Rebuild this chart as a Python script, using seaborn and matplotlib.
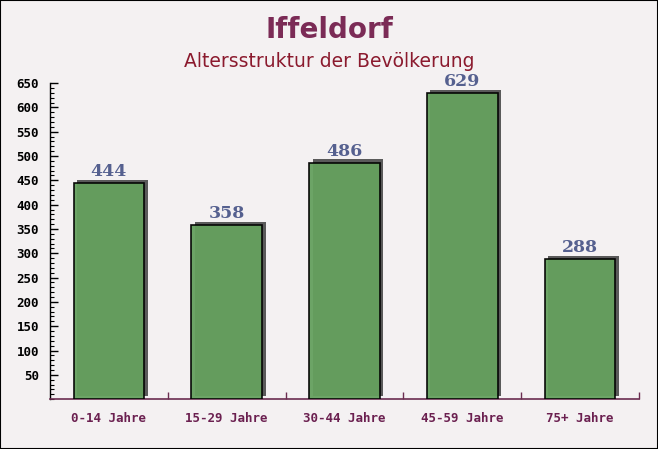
import pandas as pd
import matplotlib.pyplot as plt
import matplotlib.transforms as mtransforms
from matplotlib.patches import Rectangle
from matplotlib.ticker import MultipleLocator, FixedLocator
import seaborn as sns

# Chart data
categories = ["0-14 Jahre", "15-29 Jahre", "30-44 Jahre", "45-59 Jahre", "75+ Jahre"]
values = [444, 358, 486, 629, 288]
y_ticks = [50, 100, 150, 200, 250, 300, 350, 400, 450, 500, 550, 600, 650]

df = pd.DataFrame({"Gruppe": categories, "Einwohner": values})

sns.set_style("white")
plt.rcParams["font.family"] = ["DejaVu Sans"]

fig = plt.figure(figsize=(6.58, 4.49), dpi=100)
fig.patch.set_facecolor("#f4f1f2")
ax = fig.add_axes([0.076, 0.111, 0.895, 0.704])
ax.set_facecolor("none")

sns.barplot(data=df, x="Gruppe", y="Einwohner", color="#65a05e",
            width=0.6, edgecolor="black", linewidth=1.2,
            saturation=1, ax=ax, zorder=3)

# Drop shadows behind the bars, value labels above
shadow_tr = mtransforms.offset_copy(ax.transData, fig=fig, x=3.5, y=3.5, units="dots")
label_tr = mtransforms.offset_copy(ax.transData, fig=fig, x=0, y=3, units="dots")
for p in list(ax.patches):
    p.set_alpha(0.95)
    sh = Rectangle((p.get_x(), p.get_y()), p.get_width(), p.get_height(),
                   transform=shadow_tr, facecolor="#5a5a5a", edgecolor="none", zorder=2)
    ax.add_patch(sh)
    ax.text(p.get_x() + p.get_width() / 2, p.get_height(), f"{int(p.get_height())}",
            transform=label_tr, ha="center", va="bottom", fontsize=12.5,
            fontweight="bold", color="#55608f", family="DejaVu Serif", zorder=4)

ax.set_xlim(-0.5, len(categories) - 0.5)
ax.set_ylim(0, 650)
ax.set_xlabel("")
ax.set_ylabel("")

ax.yaxis.set_major_locator(FixedLocator(y_ticks))
ax.yaxis.set_minor_locator(MultipleLocator(10))
ax.set_yticklabels([str(t) for t in y_ticks])
ax.xaxis.set_minor_locator(FixedLocator([i + 0.5 for i in range(len(categories))]))

ax.tick_params(axis="y", which="major", direction="in", length=6, width=1,
               color="black", labelsize=9, labelcolor="black", left=True, pad=8)
ax.tick_params(axis="y", which="minor", direction="in", length=3, width=0.8,
               color="black", left=True)
ax.tick_params(axis="x", which="major", length=0, labelsize=9,
               labelcolor="#6b2050", pad=9)
ax.tick_params(axis="x", which="minor", direction="in", length=5, width=1,
               color="#6b2d50", bottom=True)
for lab in ax.get_xticklabels() + ax.get_yticklabels():
    lab.set_family("DejaVu Sans Mono")
    lab.set_fontweight("bold")

for side in ["top", "right"]:
    ax.spines[side].set_visible(False)
ax.spines["left"].set_color("black")
ax.spines["bottom"].set_color("#6b2d50")
ax.spines["left"].set_linewidth(1)
ax.spines["bottom"].set_linewidth(1.2)

fig.text(0.5, 0.933, "Iffeldorf", ha="center", va="center", fontsize=20,
         fontweight="bold", color="#7b2b56")
fig.text(0.5, 0.862, "Altersstruktur der Bevölkerung", ha="center", va="center",
         fontsize=13.5, color="#8b1a2e")

# Thin frame around the whole image
fig.add_artist(Rectangle((0, 0), 1, 1, transform=fig.transFigure, fill=False,
                         edgecolor="black", linewidth=1.5))

fig.savefig("out.png", dpi=100, facecolor=fig.get_facecolor())
